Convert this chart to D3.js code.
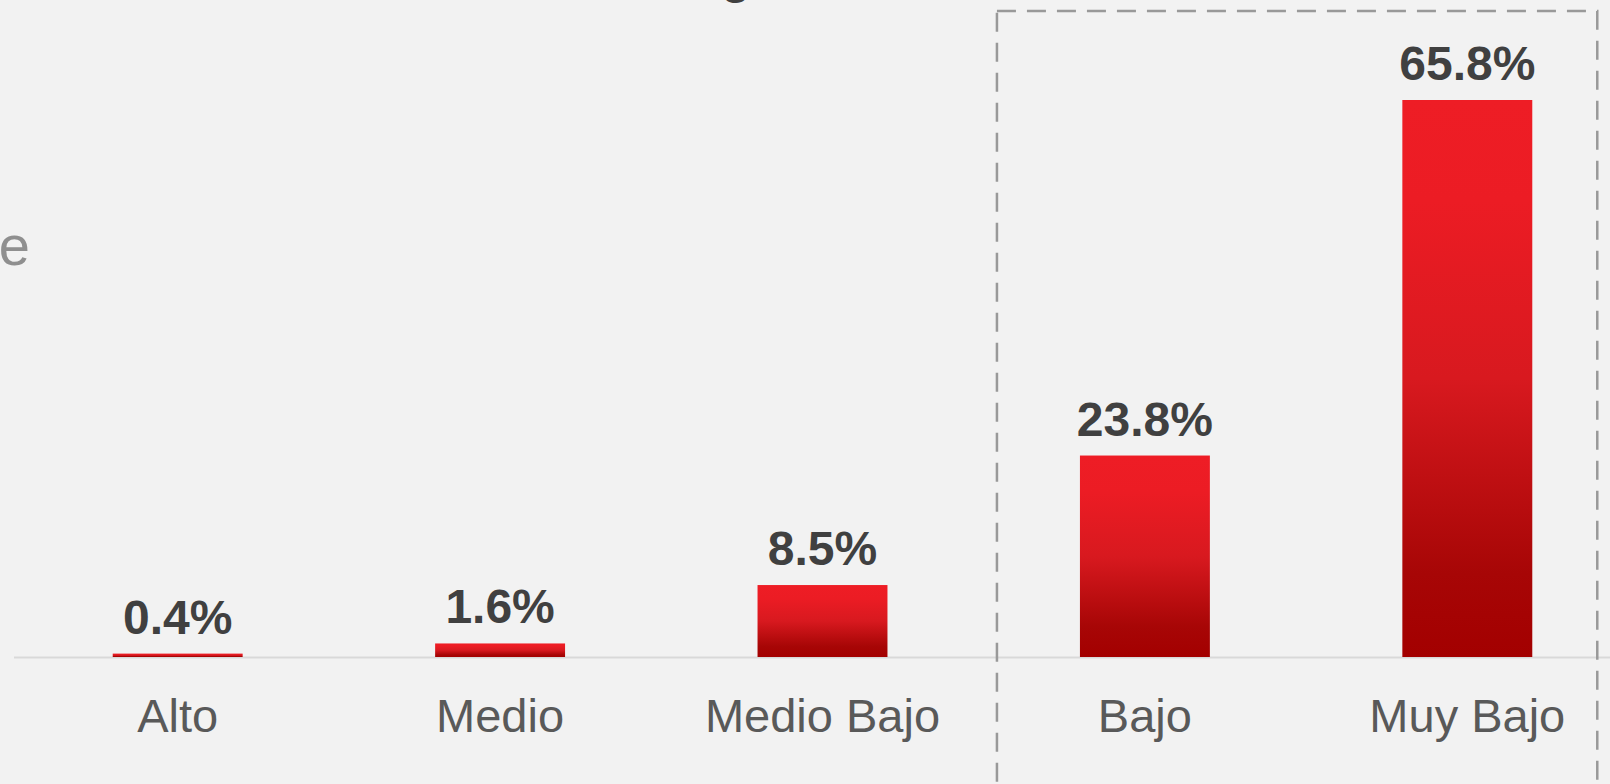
<!DOCTYPE html>
<html>
<head>
<meta charset="utf-8">
<script src="https://cdn.jsdelivr.net/npm/d3@7"></script>
<style>
  html, body { margin: 0; padding: 0; background: #f2f2f2; overflow: hidden; }
  svg { display: block; font-family: "Liberation Sans", Arial, sans-serif; }
</style>
</head>
<body>
<div id="chart"></div>
<script>
const categories = ['Alto', 'Medio', 'Medio Bajo', 'Bajo', 'Muy Bajo'];
const values = [0.4, 1.6, 8.5, 23.8, 65.8];
const labels = ['0.4%', '1.6%', '8.5%', '23.8%', '65.8%'];
const highlighted = ['Bajo', 'Muy Bajo'];

const dims = { width: 1610, height: 784 };
const baseY = 657;

const svg = d3.select('div#chart')
  .append('svg')
  .attr('width', dims.width)
  .attr('height', dims.height);

svg.append('rect')
  .attr('width', dims.width)
  .attr('height', dims.height)
  .attr('fill', '#f2f2f2');

// bar gradient, bright red on top to dark red at the base
const grad = svg.append('defs').append('linearGradient')
  .attr('id', 'barFill')
  .attr('x1', 0).attr('y1', 0)
  .attr('x2', 0).attr('y2', 1);
[[0, '#ee1d25'], [0.18, '#ec1c24'], [0.5, '#d8191f'], [0.85, '#a70606'], [1, '#a30000']]
  .forEach(s => grad.append('stop').attr('offset', s[0]).attr('stop-color', s[1]));

const xScale = d3.scaleBand()
  .domain(categories)
  .range([16, 1629])
  .paddingInner(0.597)
  .paddingOuter(0.3);

const yScale = d3.scaleLinear()
  .domain([0, d3.max(values)])
  .range([baseY, 100]);

// cut-off title descender at the top edge
svg.append('text')
  .attr('x', 736)
  .attr('y', -7)
  .attr('text-anchor', 'middle')
  .attr('font-size', 48)
  .attr('font-weight', 'bold')
  .attr('fill', '#404040')
  .text('g');

// cut-off side label
svg.append('text')
  .attr('x', 30)
  .attr('y', 265)
  .attr('text-anchor', 'end')
  .attr('font-size', 56)
  .attr('fill', '#8f8f8f')
  .text('e');

// baseline
svg.append('line')
  .attr('x1', 14).attr('x2', dims.width)
  .attr('y1', baseY + 0.5).attr('y2', baseY + 0.5)
  .attr('stroke', '#d9d9d9')
  .attr('stroke-width', 2);

// dashed box around the highlighted groups
const hx0 = xScale(highlighted[0]) - 83;
const hx1 = xScale(highlighted[highlighted.length - 1]) + xScale.bandwidth() + 65;
svg.append('rect')
  .attr('x', hx0)
  .attr('y', 11)
  .attr('width', hx1 - hx0)
  .attr('height', 820)
  .attr('fill', 'none')
  .attr('stroke', '#999999')
  .attr('stroke-width', 2.5)
  .attr('stroke-dasharray', '19,11');

const data = categories.map((c, i) => ({ cat: c, value: values[i], label: labels[i] }));

svg.selectAll('rect.bar')
  .data(data)
  .join('rect')
  .attr('class', 'bar')
  .attr('x', d => xScale(d.cat))
  .attr('y', d => yScale(d.value))
  .attr('width', xScale.bandwidth())
  .attr('height', d => baseY - yScale(d.value))
  .attr('fill', 'url(#barFill)');

svg.selectAll('text.val')
  .data(data)
  .join('text')
  .attr('class', 'val')
  .attr('x', d => xScale(d.cat) + xScale.bandwidth() / 2)
  .attr('y', d => yScale(d.value) - 20)
  .attr('text-anchor', 'middle')
  .attr('font-size', 48)
  .attr('font-weight', 'bold')
  .attr('fill', '#404040')
  .text(d => d.label);

svg.selectAll('text.cat')
  .data(data)
  .join('text')
  .attr('class', 'cat')
  .attr('x', d => xScale(d.cat) + xScale.bandwidth() / 2)
  .attr('y', 732)
  .attr('text-anchor', 'middle')
  .attr('font-size', 47)
  .attr('fill', '#595959')
  .text(d => d.cat);
</script>
</body>
</html>
